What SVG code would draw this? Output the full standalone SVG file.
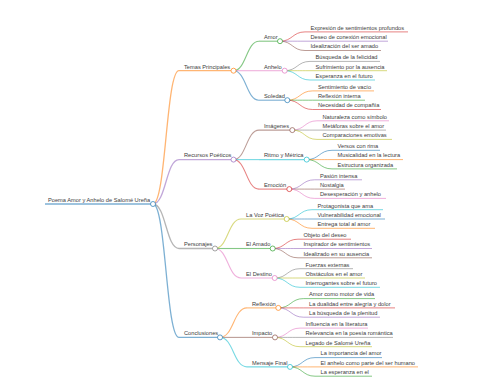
<svg xmlns="http://www.w3.org/2000/svg" width="480" height="384" viewBox="0 0 480 384">
<style>
text{font-family:"Liberation Sans",Arial,sans-serif;font-size:5.7px;fill:#3c3c3c}
path{fill:none}
.l0,.l1{stroke-width:1.3}
.l2{stroke-width:1.1}
.l3{stroke-width:1}
circle{fill:#fff;stroke-width:1;stroke-opacity:.7}
.c0{stroke:#1f77b4}.c1{stroke:#ff7f0e}.c2{stroke:#2ca02c}.c3{stroke:#d62728}.c4{stroke:#9467bd}
.c5{stroke:#8c564b}.c6{stroke:#e377c2}.c7{stroke:#7f7f7f}.c8{stroke:#bcbd22}.c9{stroke:#17becf}
#connectors path,.u{stroke-opacity:.58}
</style>
<rect width="480" height="384" fill="#fff"/>
<g id="connectors">
<path class="l1 c1" d="M153 204C166 204 166 70.7 179 70.7"/>
<path class="l1 c4" d="M153 204C166 204 166 159.6 179 159.6"/>
<path class="l1 c7" d="M153 204C166 204 166 248.5 179 248.5"/>
<path class="l1 c0" d="M153 204C166 204 166 337.4 179 337.4"/>
<path class="l2 c2" d="M233.5 70.7C246.25 70.7 246.25 41.2 259 41.2"/>
<path class="l2 c6" d="M233.5 70.7C246.25 70.7 246.25 70.7 259 70.7"/>
<path class="l2 c0" d="M233.5 70.7C246.25 70.7 246.25 100.2 259 100.2"/>
<path class="l2 c5" d="M233.5 159.6C246.25 159.6 246.25 130.1 259 130.1"/>
<path class="l2 c9" d="M233.5 159.6C246.25 159.6 246.25 159.6 259 159.6"/>
<path class="l2 c3" d="M233.5 159.6C246.25 159.6 246.25 189.1 259 189.1"/>
<path class="l2 c8" d="M215 248.5C228 248.5 228 219 241 219"/>
<path class="l2 c2" d="M215 248.5C228 248.5 228 248.5 241 248.5"/>
<path class="l2 c6" d="M215 248.5C228 248.5 228 278 241 278"/>
<path class="l2 c1" d="M220 337.4C233.5 337.4 233.5 307.9 247 307.9"/>
<path class="l2 c5" d="M220 337.4C233.5 337.4 233.5 337.4 247 337.4"/>
<path class="l2 c9" d="M220 337.4C233.5 337.4 233.5 366.9 247 366.9"/>
<path class="l3 c3" d="M280 41.2C292.5 41.2 292.5 31.9 305 31.9"/>
<path class="l3 c4" d="M280 41.2C292.5 41.2 292.5 41.2 305 41.2"/>
<path class="l3 c5" d="M280 41.2C292.5 41.2 292.5 50.5 305 50.5"/>
<path class="l3 c7" d="M284.7 70.7C297.35 70.7 297.35 61.4 310 61.4"/>
<path class="l3 c8" d="M284.7 70.7C297.35 70.7 297.35 70.7 310 70.7"/>
<path class="l3 c9" d="M284.7 70.7C297.35 70.7 297.35 80 310 80"/>
<path class="l3 c1" d="M287.3 100.2C299.9 100.2 299.9 90.9 312.5 90.9"/>
<path class="l3 c2" d="M287.3 100.2C299.9 100.2 299.9 100.2 312.5 100.2"/>
<path class="l3 c3" d="M287.3 100.2C299.9 100.2 299.9 109.5 312.5 109.5"/>
<path class="l3 c6" d="M292.3 130.1C304.65 130.1 304.65 120.8 317 120.8"/>
<path class="l3 c7" d="M292.3 130.1C304.65 130.1 304.65 130.1 317 130.1"/>
<path class="l3 c8" d="M292.3 130.1C304.65 130.1 304.65 139.4 317 139.4"/>
<path class="l3 c0" d="M306.7 159.6C319.35 159.6 319.35 150.3 332 150.3"/>
<path class="l3 c1" d="M306.7 159.6C319.35 159.6 319.35 159.6 332 159.6"/>
<path class="l3 c2" d="M306.7 159.6C319.35 159.6 319.35 168.9 332 168.9"/>
<path class="l3 c4" d="M289.3 189.1C301.9 189.1 301.9 179.8 314.5 179.8"/>
<path class="l3 c5" d="M289.3 189.1C301.9 189.1 301.9 189.1 314.5 189.1"/>
<path class="l3 c6" d="M289.3 189.1C301.9 189.1 301.9 198.4 314.5 198.4"/>
<path class="l3 c9" d="M286.7 219C299.35 219 299.35 209.7 312 209.7"/>
<path class="l3 c0" d="M286.7 219C299.35 219 299.35 219 312 219"/>
<path class="l3 c1" d="M286.7 219C299.35 219 299.35 228.3 312 228.3"/>
<path class="l3 c3" d="M272.7 248.5C285.35 248.5 285.35 239.2 298 239.2"/>
<path class="l3 c4" d="M272.7 248.5C285.35 248.5 285.35 248.5 298 248.5"/>
<path class="l3 c5" d="M272.7 248.5C285.35 248.5 285.35 257.8 298 257.8"/>
<path class="l3 c7" d="M274.7 278C287.35 278 287.35 268.7 300 268.7"/>
<path class="l3 c8" d="M274.7 278C287.35 278 287.35 278 300 278"/>
<path class="l3 c9" d="M274.7 278C287.35 278 287.35 287.3 300 287.3"/>
<path class="l3 c2" d="M278.3 307.9C290.9 307.9 290.9 298.6 303.5 298.6"/>
<path class="l3 c3" d="M278.3 307.9C290.9 307.9 290.9 307.9 303.5 307.9"/>
<path class="l3 c4" d="M278.3 307.9C290.9 307.9 290.9 317.2 303.5 317.2"/>
<path class="l3 c6" d="M275 337.4C287.5 337.4 287.5 328.1 300 328.1"/>
<path class="l3 c7" d="M275 337.4C287.5 337.4 287.5 337.4 300 337.4"/>
<path class="l3 c8" d="M275 337.4C287.5 337.4 287.5 346.7 300 346.7"/>
<path class="l3 c0" d="M290 366.9C302.5 366.9 302.5 357.6 315 357.6"/>
<path class="l3 c1" d="M290 366.9C302.5 366.9 302.5 366.9 315 366.9"/>
<path class="l3 c2" d="M290 366.9C302.5 366.9 302.5 376.2 315 376.2"/>
</g>
<g id="root"><path class="u l0 c0" d="M45 204H153"/><text x="48" y="201.8">Poema Amor y Anhelo de Salomé Ureña</text><circle class="c0" cx="153" cy="204" r="2.5"/></g>
<g id="temas"><path class="u l1 c1" d="M179 70.7H233.5"/><text x="184" y="68.5">Temas Principales</text><circle class="c1" cx="233.5" cy="70.7" r="2.5"/></g>
<g id="recursos"><path class="u l1 c4" d="M179 159.6H233.5"/><text x="184" y="157.4">Recursos Poéticos</text><circle class="c4" cx="233.5" cy="159.6" r="2.5"/></g>
<g id="personajes"><path class="u l1 c7" d="M179 248.5H215"/><text x="184" y="246.3">Personajes</text><circle class="c7" cx="215" cy="248.5" r="2.5"/></g>
<g id="conclusiones"><path class="u l1 c0" d="M179 337.4H220"/><text x="184" y="335.2">Conclusiones</text><circle class="c0" cx="220" cy="337.4" r="2.5"/></g>
<g id="amor"><path class="u l2 c2" d="M259 41.2H280"/><text x="264" y="39">Amor</text><circle class="c2" cx="280" cy="41.2" r="2.5"/></g>
<g id="anhelo"><path class="u l2 c6" d="M259 70.7H284.7"/><text x="264" y="68.5">Anhelo</text><circle class="c6" cx="284.7" cy="70.7" r="2.5"/></g>
<g id="soledad"><path class="u l2 c0" d="M259 100.2H287.3"/><text x="264" y="98">Soledad</text><circle class="c0" cx="287.3" cy="100.2" r="2.5"/></g>
<g id="imagenes"><path class="u l2 c5" d="M259 130.1H292.3"/><text x="264" y="127.9">Imágenes</text><circle class="c5" cx="292.3" cy="130.1" r="2.5"/></g>
<g id="ritmo"><path class="u l2 c9" d="M259 159.6H306.7"/><text x="264" y="157.4">Ritmo y Métrica</text><circle class="c9" cx="306.7" cy="159.6" r="2.5"/></g>
<g id="emocion"><path class="u l2 c3" d="M259 189.1H289.3"/><text x="264" y="186.9">Emoción</text><circle class="c3" cx="289.3" cy="189.1" r="2.5"/></g>
<g id="voz"><path class="u l2 c8" d="M241 219H286.7"/><text x="246" y="216.8">La Voz Poética</text><circle class="c8" cx="286.7" cy="219" r="2.5"/></g>
<g id="amado"><path class="u l2 c2" d="M241 248.5H272.7"/><text x="246" y="246.3">El Amado</text><circle class="c2" cx="272.7" cy="248.5" r="2.5"/></g>
<g id="destino"><path class="u l2 c6" d="M241 278H274.7"/><text x="246" y="275.8">El Destino</text><circle class="c6" cx="274.7" cy="278" r="2.5"/></g>
<g id="reflexion"><path class="u l2 c1" d="M247 307.9H278.3"/><text x="252" y="305.7">Reflexión</text><circle class="c1" cx="278.3" cy="307.9" r="2.5"/></g>
<g id="impacto"><path class="u l2 c5" d="M247 337.4H275"/><text x="252" y="335.2">Impacto</text><circle class="c5" cx="275" cy="337.4" r="2.5"/></g>
<g id="mensaje"><path class="u l2 c9" d="M247 366.9H290"/><text x="252" y="364.7">Mensaje Final</text><circle class="c9" cx="290" cy="366.9" r="2.5"/></g>
<g id="l-expresion"><path class="u l3 c3" d="M305 31.9H408"/><text x="310.5" y="29.7">Expresión de sentimientos profundos</text></g>
<g id="l-deseo"><path class="u l3 c4" d="M305 41.2H388"/><text x="310.5" y="39">Deseo de conexión emocional</text></g>
<g id="l-idealizacion"><path class="u l3 c5" d="M305 50.5H381"/><text x="310.5" y="48.3">Idealización del ser amado</text></g>
<g id="l-busqueda"><path class="u l3 c7" d="M310 61.4H380"/><text x="315.5" y="59.2">Búsqueda de la felicidad</text></g>
<g id="l-sufrimiento"><path class="u l3 c8" d="M310 70.7H387"/><text x="315.5" y="68.5">Sufrimiento por la ausencia</text></g>
<g id="l-esperanza"><path class="u l3 c9" d="M310 80H375"/><text x="315.5" y="77.8">Esperanza en el futuro</text></g>
<g id="l-sentimiento"><path class="u l3 c1" d="M312.5 90.9H374"/><text x="318" y="88.7">Sentimiento de vacío</text></g>
<g id="l-reflexion-interna"><path class="u l3 c2" d="M312.5 100.2H365"/><text x="318" y="98">Reflexión interna</text></g>
<g id="l-necesidad"><path class="u l3 c3" d="M312.5 109.5H381"/><text x="318" y="107.3">Necesidad de compañía</text></g>
<g id="l-naturaleza"><path class="u l3 c6" d="M317 120.8H389"/><text x="322.5" y="118.6">Naturaleza como símbolo</text></g>
<g id="l-metaforas"><path class="u l3 c7" d="M317 130.1H386"/><text x="322.5" y="127.9">Metáforas sobre el amor</text></g>
<g id="l-comparaciones"><path class="u l3 c8" d="M317 139.4H392"/><text x="322.5" y="137.2">Comparaciones emotivas</text></g>
<g id="l-versos"><path class="u l3 c0" d="M332 150.3H380"/><text x="337.5" y="148.1">Versos con rima</text></g>
<g id="l-musicalidad"><path class="u l3 c1" d="M332 159.6H403"/><text x="337.5" y="157.4">Musicalidad en la lectura</text></g>
<g id="l-estructura"><path class="u l3 c2" d="M332 168.9H397"/><text x="337.5" y="166.7">Estructura organizada</text></g>
<g id="l-pasion"><path class="u l3 c4" d="M314.5 179.8H362"/><text x="320" y="177.6">Pasión intensa</text></g>
<g id="l-nostalgia"><path class="u l3 c5" d="M314.5 189.1H345"/><text x="320" y="186.9">Nostalgia</text></g>
<g id="l-desesperacion"><path class="u l3 c6" d="M314.5 198.4H386"/><text x="320" y="196.2">Desesperación y anhelo</text></g>
<g id="l-protagonista"><path class="u l3 c9" d="M312 209.7H383"/><text x="317.5" y="207.5">Protagonista que ama</text></g>
<g id="l-vulnerabilidad"><path class="u l3 c0" d="M312 219H385"/><text x="317.5" y="216.8">Vulnerabilidad emocional</text></g>
<g id="l-entrega"><path class="u l3 c1" d="M312 228.3H375"/><text x="317.5" y="226.1">Entrega total al amor</text></g>
<g id="l-objeto"><path class="u l3 c3" d="M298 239.2H351"/><text x="303.5" y="237">Objeto del deseo</text></g>
<g id="l-inspirador"><path class="u l3 c4" d="M298 248.5H372"/><text x="303.5" y="246.3">Inspirador de sentimientos</text></g>
<g id="l-idealizado"><path class="u l3 c5" d="M298 257.8H372"/><text x="303.5" y="255.6">Idealizado en su ausencia</text></g>
<g id="l-fuerzas"><path class="u l3 c7" d="M300 268.7H353"/><text x="305.5" y="266.5">Fuerzas externas</text></g>
<g id="l-obstaculos"><path class="u l3 c8" d="M300 278H365"/><text x="305.5" y="275.8">Obstáculos en el amor</text></g>
<g id="l-interrogantes"><path class="u l3 c9" d="M300 287.3H380"/><text x="305.5" y="285.1">Interrogantes sobre el futuro</text></g>
<g id="l-motor"><path class="u l3 c2" d="M303.5 298.6H375"/><text x="309" y="296.4">Amor como motor de vida</text></g>
<g id="l-dualidad"><path class="u l3 c3" d="M303.5 307.9H395"/><text x="309" y="305.7">La dualidad entre alegría y dolor</text></g>
<g id="l-plenitud"><path class="u l3 c4" d="M303.5 317.2H380"/><text x="309" y="315">La búsqueda de la plenitud</text></g>
<g id="l-influencia"><path class="u l3 c6" d="M300 328.1H368"/><text x="305.5" y="325.9">Influencia en la literatura</text></g>
<g id="l-relevancia"><path class="u l3 c7" d="M300 337.4H393"/><text x="305.5" y="335.2">Relevancia en la poesía romántica</text></g>
<g id="l-legado"><path class="u l3 c8" d="M300 346.7H372"/><text x="305.5" y="344.5">Legado de Salomé Ureña</text></g>
<g id="l-importancia"><path class="u l3 c0" d="M315 357.6H382"/><text x="320.5" y="355.4">La importancia del amor</text></g>
<g id="l-anhelo-humano"><path class="u l3 c1" d="M315 366.9H418"/><text x="320.5" y="364.7">El anhelo como parte del ser humano</text></g>
<g id="l-esperanza-el"><path class="u l3 c2" d="M315 376.2H372"/><text x="320.5" y="374">La esperanza en el</text></g>
</svg>
